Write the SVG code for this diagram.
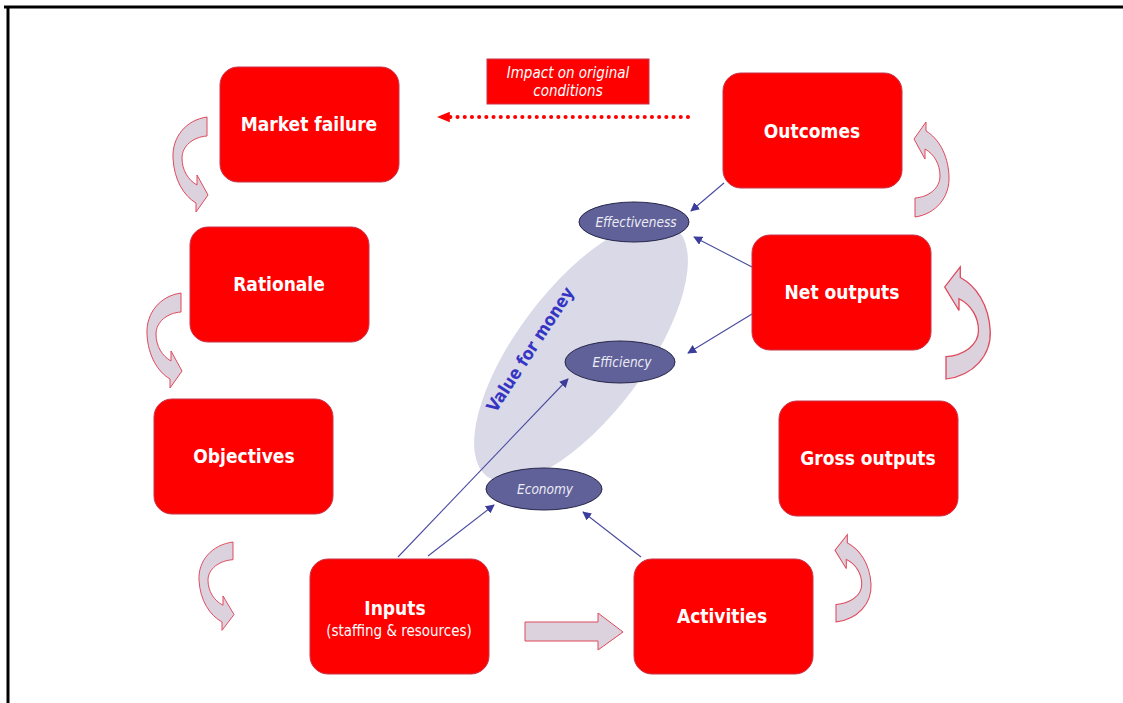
<svg xmlns="http://www.w3.org/2000/svg" width="1123" height="703" viewBox="0 0 1123 703">
  <style>
    .box { fill: #ff0000; stroke: #c8344a; stroke-width: 1; }
    .lbl { font-family: "DejaVu Sans Condensed", "DejaVu Sans", sans-serif; font-weight: bold; font-size: 19px; fill: #ffffff; text-anchor: middle; }
    .sub { font-family: "DejaVu Sans Condensed", "DejaVu Sans", sans-serif; font-size: 15px; fill: #ffffff; text-anchor: middle; }
    .oval { fill: #61619a; stroke: #26264a; stroke-width: 1; }
    .olbl { font-family: "DejaVu Sans Condensed", "DejaVu Sans", sans-serif; font-style: italic; font-weight: 300; font-size: 13.5px; fill: #ececf4; text-anchor: middle; }
    .flow { fill: #dbd2de; stroke: #e0485c; stroke-width: 1; }
    .link { stroke: #4a4aa0; stroke-width: 1.1; fill: none; marker-end: url(#ah); }
  </style>
  <defs>
    <marker id="ah" viewBox="0 0 10 10" refX="9" refY="5" markerWidth="9" markerHeight="9" markerUnits="userSpaceOnUse" orient="auto">
      <path d="M0,0 L10,5 L0,10 Z" fill="#3c3c9a"/>
    </marker>
    <marker id="rh" viewBox="0 0 10 10" refX="6" refY="5" markerWidth="13" markerHeight="13" markerUnits="userSpaceOnUse" orient="auto">
      <path d="M0,1 L10,5 L0,9 Z" fill="#ff0000"/>
    </marker>
    <!-- curved block arrow: tail at origin, bends left, head points right -->
    <path id="bend" d="M0,0 C-21,3 -35,20 -34,41 C-33,63 -23,79 -11,86 L-11,95 L1,78 L-10,58 L-10,68 C-19,63 -25,53 -25,41 C-25,29 -14,20 0,19 Z"/>
  </defs>

  <rect width="1123" height="703" fill="#ffffff"/>
  <!-- frame -->
  <line x1="4" y1="7" x2="1123" y2="7" stroke="#000" stroke-width="3"/>
  <line x1="8" y1="6" x2="8" y2="703" stroke="#000" stroke-width="3"/>

  <!-- value for money zone -->
  <ellipse cx="581" cy="352" rx="156" ry="64" transform="rotate(-53 581 352)" fill="#d9d9e7"/>
  <text x="531" y="350" transform="rotate(-57 531 350)" font-family="'DejaVu Sans Condensed', 'DejaVu Sans', sans-serif" font-weight="bold" font-size="17.5" fill="#3535c4" text-anchor="middle" dominant-baseline="middle">Value for money</text>

  <!-- process flow arrows -->
  <g id="flow-arrows" class="flow">
    <use href="#bend" transform="translate(207,117)"/>
    <use href="#bend" transform="translate(181,293)"/>
    <use href="#bend" transform="translate(233,542) scale(1,0.93)"/>
    <path d="M525,622 L598,622 L598,613 L623,632 L598,650 L598,641 L525,641 Z"/>
    <use href="#bend" transform="translate(836,622) rotate(180) scale(1.03,0.92)"/>
    <use href="#bend" transform="translate(946,379) rotate(180) scale(1.3,1.18)"/>
    <use href="#bend" transform="translate(915,217) rotate(180)"/>
  </g>

  <!-- connectors -->
  <g id="connectors">
    <line class="link" x1="724" y1="183" x2="691" y2="211"/>
    <line class="link" x1="752" y1="267" x2="694" y2="237"/>
    <line class="link" x1="752" y1="314" x2="688" y2="353"/>
    <line class="link" x1="398" y1="557" x2="568" y2="379"/>
    <line class="link" x1="428" y1="556" x2="494" y2="505"/>
    <line class="link" x1="641" y1="557" x2="583" y2="512"/>
    <line x1="688" y1="117" x2="442" y2="117" stroke="#ff0000" stroke-width="4" stroke-linecap="round" stroke-dasharray="0.1 7.1" marker-end="url(#rh)"/>
  </g>

  <!-- impact label -->
  <g id="impact">
    <rect x="487" y="59" width="162" height="45" fill="#ff0000" stroke="#c8344a" stroke-width="1"/>
    <text x="568" y="78" class="olbl" style="font-size:15px;fill:#ffffff">Impact on original</text>
    <text x="568" y="96" class="olbl" style="font-size:15px;fill:#ffffff">conditions</text>
  </g>

  <!-- value for money measures -->
  <g id="effectiveness">
    <ellipse class="oval" cx="634" cy="222" rx="55" ry="20"/>
    <text class="olbl" x="636" y="227">Effectiveness</text>
  </g>
  <g id="efficiency">
    <ellipse class="oval" cx="620" cy="362" rx="55" ry="21"/>
    <text class="olbl" x="622" y="367">Efficiency</text>
  </g>
  <g id="economy">
    <ellipse class="oval" cx="544" cy="489" rx="58" ry="21"/>
    <text class="olbl" x="545" y="494">Economy</text>
  </g>

  <!-- stages -->
  <g id="market-failure">
    <rect class="box" x="220" y="67" width="179" height="115" rx="18"/>
    <text class="lbl" x="309" y="131">Market failure</text>
  </g>
  <g id="rationale">
    <rect class="box" x="190" y="227" width="179" height="115" rx="18"/>
    <text class="lbl" x="279" y="291">Rationale</text>
  </g>
  <g id="objectives">
    <rect class="box" x="154" y="399" width="179" height="115" rx="18"/>
    <text class="lbl" x="244" y="463">Objectives</text>
  </g>
  <g id="inputs">
    <rect class="box" x="310" y="559" width="179" height="115" rx="18"/>
    <text class="lbl" x="395" y="615">Inputs</text>
    <text class="sub" x="399" y="636">(staffing &amp; resources)</text>
  </g>
  <g id="activities">
    <rect class="box" x="634" y="559" width="179" height="115" rx="18"/>
    <text class="lbl" x="722" y="623">Activities</text>
  </g>
  <g id="gross-outputs">
    <rect class="box" x="779" y="401" width="179" height="115" rx="18"/>
    <text class="lbl" x="868" y="465">Gross outputs</text>
  </g>
  <g id="net-outputs">
    <rect class="box" x="752" y="235" width="179" height="115" rx="18"/>
    <text class="lbl" x="842" y="299">Net outputs</text>
  </g>
  <g id="outcomes">
    <rect class="box" x="723" y="73" width="179" height="115" rx="18"/>
    <text class="lbl" x="812" y="138">Outcomes</text>
  </g>
</svg>
